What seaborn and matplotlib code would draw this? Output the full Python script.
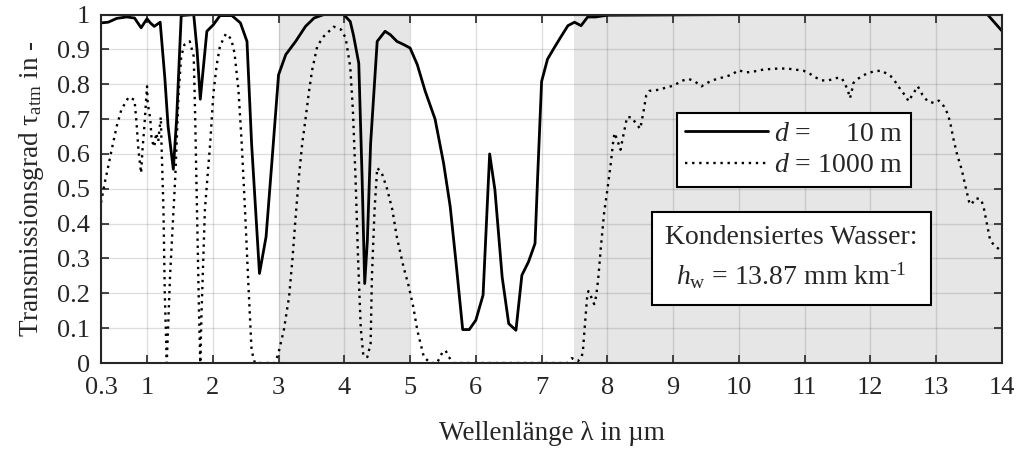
import numpy as np
import pandas as pd
import matplotlib
matplotlib.use("Agg")
import matplotlib.pyplot as plt
import seaborn as sns

# ---------------- data ----------------
wl_10m = [0.30, 0.41, 0.54, 0.69, 0.81, 0.91, 1.00, 1.05, 1.11, 1.20, 1.27, 1.32, 1.40,
          1.45, 1.52, 1.71, 1.76, 1.81, 1.91, 2.01, 2.11, 2.29, 2.42, 2.52, 2.59, 2.71,
          2.81, 2.90, 3.00, 3.11, 3.26, 3.41, 3.54, 3.69, 3.99, 4.09, 4.14, 4.22, 4.27,
          4.31, 4.35, 4.40, 4.50, 4.62, 4.70, 4.80, 4.90, 5.00, 5.11, 5.23, 5.38, 5.51,
          5.61, 5.70, 5.80, 5.90, 6.00, 6.11, 6.21, 6.29, 6.40, 6.50, 6.61, 6.70, 6.80,
          6.90, 6.94, 7.00, 7.09, 7.19, 7.29, 7.40, 7.50, 7.60, 7.70, 7.82, 8.00, 9.00,
          10.00, 11.00, 12.00, 13.00, 13.78, 14.00]
tau_10m = [0.976, 0.978, 0.989, 0.993, 0.990, 0.962, 0.988, 0.976, 0.966, 0.978, 0.820, 0.680, 0.556,
           0.700, 0.997, 1.000, 0.900, 0.757, 0.952, 0.971, 0.997, 0.997, 0.976, 0.923, 0.630, 0.257,
           0.362, 0.580, 0.827, 0.885, 0.923, 0.966, 0.990, 1.000, 1.000, 0.980, 0.940, 0.860, 0.535,
           0.228, 0.350, 0.630, 0.923, 0.952, 0.942, 0.923, 0.914, 0.904, 0.856, 0.780, 0.700, 0.573,
           0.449, 0.286, 0.096, 0.096, 0.123, 0.195, 0.600, 0.497, 0.247, 0.113, 0.094, 0.252, 0.290,
           0.343, 0.535, 0.808, 0.872, 0.904, 0.935, 0.968, 0.978, 0.968, 0.993, 0.993, 0.998, 0.999,
           1.000, 1.000, 1.000, 1.000, 1.000, 0.953]

wl_1000m = [0.30, 0.36, 0.41, 0.46, 0.54, 0.61, 0.72, 0.81, 0.84, 0.87, 0.91, 0.93, 0.96, 1.00,
            1.01, 1.05, 1.07, 1.11, 1.14, 1.17, 1.21, 1.22, 1.25, 1.27, 1.30, 1.35, 1.43, 1.48,
            1.52, 1.57, 1.65, 1.71, 1.73, 1.76, 1.79, 1.81, 1.83, 1.88, 1.96, 2.01, 2.06, 2.11,
            2.20, 2.28, 2.33, 2.39, 2.44, 2.49, 2.54, 2.59, 2.64, 2.95, 3.00, 3.08, 3.16, 3.21,
            3.26, 3.31, 3.36, 3.41, 3.46, 3.51, 3.59, 3.69, 3.84, 3.95, 4.02, 4.09, 4.13, 4.17,
            4.21, 4.25, 4.29, 4.35, 4.40, 4.42, 4.46, 4.50, 4.57, 4.65, 4.73, 4.80, 4.90, 4.98,
            5.05, 5.11, 5.21, 5.31, 5.41, 5.49, 5.54, 5.59, 5.66, 7.40, 7.46, 7.55, 7.61, 7.63,
            7.65, 7.67, 7.69, 7.71, 7.73, 7.77, 7.80, 7.83, 7.86, 7.90, 7.95, 8.00, 8.05, 8.09,
            8.11, 8.15, 8.20, 8.25, 8.30, 8.37, 8.44, 8.50, 8.55, 8.59, 8.64, 8.78, 8.92, 9.01,
            9.13, 9.24, 9.33, 9.43, 9.53, 9.63, 9.76, 9.89, 9.99, 10.12, 10.24, 10.37, 10.50,
            10.60, 10.73, 10.85, 10.98, 11.08, 11.16, 11.26, 11.36, 11.49, 11.56, 11.61, 11.66,
            11.69, 11.72, 11.74, 11.79, 11.87, 11.94, 12.05, 12.17, 12.31, 12.39, 12.46, 12.54,
            12.58, 12.64, 12.72, 12.79, 12.87, 12.97, 13.04, 13.12, 13.17, 13.21, 13.26, 13.32,
            13.39, 13.44, 13.50, 13.53, 13.60, 13.68, 13.72, 13.77, 13.82, 13.88, 13.96, 14.00]
tau_1000m = [0.460, 0.520, 0.564, 0.610, 0.680, 0.727, 0.763, 0.755, 0.690, 0.610, 0.545, 0.610, 0.680, 0.794,
             0.746, 0.700, 0.640, 0.620, 0.660, 0.636, 0.706, 0.630, 0.440, 0.200, 0.000, 0.250, 0.535, 0.775,
             0.880, 0.914, 0.923, 0.880, 0.727, 0.440, 0.150, 0.000, 0.150, 0.440, 0.630, 0.775, 0.856, 0.910,
             0.945, 0.930, 0.890, 0.784, 0.630, 0.440, 0.230, 0.036, 0.000, 0.000, 0.030, 0.094, 0.190, 0.295,
             0.420, 0.535, 0.630, 0.700, 0.775, 0.840, 0.910, 0.938, 0.965, 0.957, 0.933, 0.850, 0.727, 0.535,
             0.295, 0.100, 0.020, 0.017, 0.056, 0.250, 0.440, 0.560, 0.545, 0.500, 0.440, 0.360, 0.276, 0.220,
             0.160, 0.094, 0.017, 0.000, 0.000, 0.030, 0.036, 0.017, 0.000, 0.000, 0.014, 0.005, 0.017, 0.040,
             0.090, 0.137, 0.185, 0.206, 0.204, 0.180, 0.169, 0.192, 0.240, 0.330, 0.430, 0.497, 0.570, 0.638,
             0.660, 0.640, 0.612, 0.660, 0.706, 0.705, 0.686, 0.672, 0.722, 0.767, 0.781, 0.784, 0.792, 0.796,
             0.810, 0.815, 0.808, 0.794, 0.805, 0.813, 0.820, 0.827, 0.840, 0.834, 0.837, 0.842, 0.844,
             0.845, 0.845, 0.842, 0.839, 0.830, 0.820, 0.811, 0.811, 0.818, 0.818, 0.803, 0.780,
             0.760, 0.784, 0.803, 0.813, 0.823, 0.830, 0.837, 0.839, 0.823, 0.804, 0.784, 0.765,
             0.751, 0.770, 0.794, 0.770, 0.751, 0.746, 0.753, 0.736, 0.717, 0.693, 0.645, 0.597,
             0.554, 0.511, 0.463, 0.454, 0.473, 0.470, 0.449, 0.401, 0.353, 0.338, 0.326, 0.320]

label_10m = r"$d$ =     10 m"
label_1000m = r"$d$ = 1000 m"
shaded_bands = [(3.0, 5.0), (7.5, 14.0)]
xticks = [0.3, 1, 2, 3, 4, 5, 6, 7, 8, 9, 10, 11, 12, 13, 14]
xtick_labels = ["0.3", "1", "2", "3", "4", "5", "6", "7", "8", "9", "10", "11", "12", "13", "14"]
yticks = [0, 0.1, 0.2, 0.3, 0.4, 0.5, 0.6, 0.7, 0.8, 0.9, 1.0]
ytick_labels = ["0", "0.1", "0.2", "0.3", "0.4", "0.5", "0.6", "0.7", "0.8", "0.9", "1"]
xlabel = "Wellenlänge λ in µm"
ylabel = r"Transmissionsgrad τ$_{\mathrm{atm}}$ in -"
note = "Kondensiertes Wasser:\n" + r"$h_{\mathrm{w}}$ = 13.87 mm km$^{\text{-}1}$"

# ---------------- style ----------------
sns.set_theme(style="ticks")
plt.rcParams["font.family"] = ["Liberation Serif", "DejaVu Serif"]
plt.rcParams["mathtext.fontset"] = "custom"
plt.rcParams["mathtext.rm"] = "Liberation Serif"
plt.rcParams["mathtext.it"] = "Liberation Serif:italic"
plt.rcParams["mathtext.bf"] = "Liberation Serif:bold"
plt.rcParams["font.size"] = 19

fig = plt.figure(figsize=(10.17, 4.5), dpi=100)
ax = fig.add_axes([0.0993, 0.1933, 0.8859, 0.7744])

for lo, hi in shaded_bands:
    ax.axvspan(lo, hi, color="#e6e6e6", lw=0, zorder=0.1)

df10 = pd.DataFrame({"wl": wl_10m, "tau": tau_10m})
df1000 = pd.DataFrame({"wl": wl_1000m, "tau": tau_1000m})

sns.lineplot(data=df10, x="wl", y="tau", ax=ax, color="black", lw=2.0,
             estimator=None, sort=False, label=label_10m, zorder=3)
sns.lineplot(data=df1000, x="wl", y="tau", ax=ax, color="black", lw=1.7,
             estimator=None, sort=False, label=label_1000m, zorder=3,
             dashes=False)
ax.lines[1].set_linestyle((0, (1, 2.0)))
ax.lines[1].set_dash_capstyle("butt")

ax.set_xlim(0.3, 14)
ax.set_ylim(0, 1)
ax.set_xticks(xticks)
ax.set_xticklabels(xtick_labels)
ax.set_yticks(yticks)
ax.set_yticklabels(ytick_labels)
ax.grid(True, color="#262626", alpha=0.15, lw=1.0)
ax.set_axisbelow(True)

for s in ax.spines.values():
    s.set_visible(True)
    s.set_color("#262626")
    s.set_linewidth(1.5)
    s.set_zorder(5)
ax.tick_params(axis="both", which="both", direction="in", length=6, width=1.2,
               color="#262626", top=True, right=True, labelsize=19,
               labelcolor="#262626")
ax.tick_params(axis="x", pad=10)
ax.tick_params(axis="y", pad=8)

ax.set_xlabel(xlabel, fontsize=19.5, labelpad=16, color="#262626")
ax.set_ylabel(ylabel, fontsize=19.5, labelpad=8, color="#262626")

leg = ax.legend(loc="upper left", bbox_to_anchor=(0.639, 0.717), borderaxespad=0,
                frameon=True, fancybox=False, framealpha=1, edgecolor="black",
                fontsize=20, handlelength=3.0, handletextpad=0.2,
                labelspacing=0.22, borderpad=0.3)
leg.get_frame().set_linewidth(1.5)
leg.set_zorder(6)

ax.text(0.766, 0.301, note, transform=ax.transAxes, ha="center", va="center",
        fontsize=20, linespacing=1.45, zorder=6, color="#262626",
        bbox=dict(boxstyle="square,pad=0.48", fc="white", ec="black", lw=1.5))

fig.savefig("out.png", dpi=100)
